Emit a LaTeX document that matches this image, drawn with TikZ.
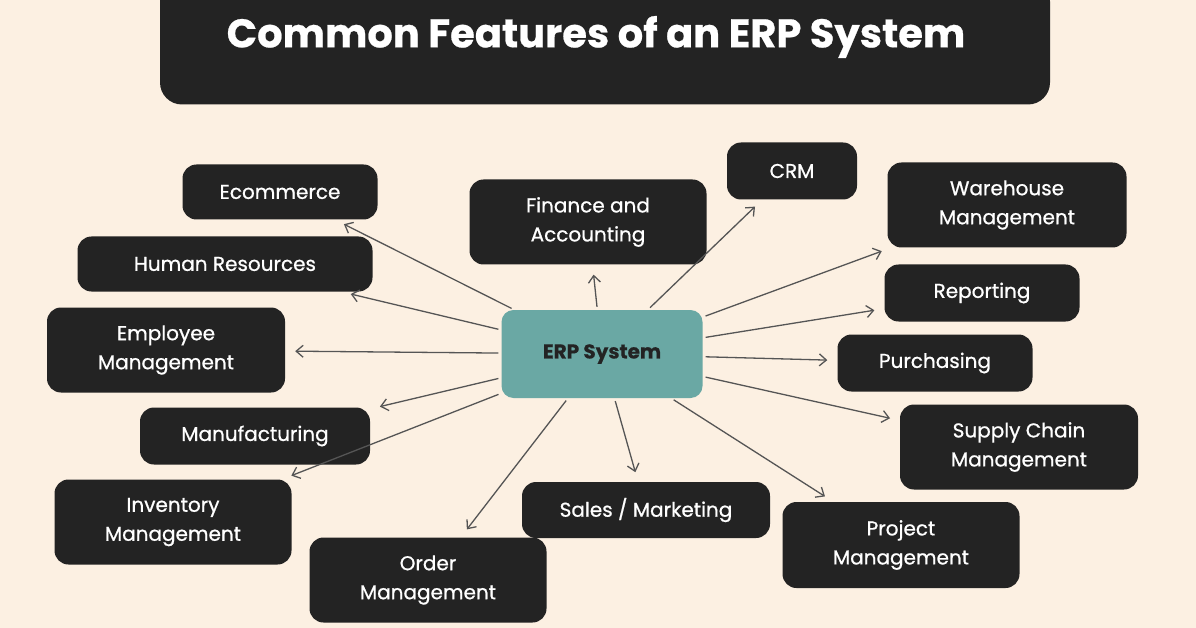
\documentclass[tikz,border=0pt]{standalone}
\usepackage{fontspec}
\setmainfont{Poppins}[FakeBold=0.6]
\newfontfamily\featfont{Poppins}[FakeBold=0.8]
\usetikzlibrary{arrows.meta}
\definecolor{bg}{HTML}{FCF0E2}
\definecolor{box}{HTML}{232323}
\definecolor{teal}{HTML}{6AA8A4}
\definecolor{arr}{HTML}{555555}
\begin{document}
\begin{tikzpicture}[x=1pt,y=-1pt,
 feat/.style={fill=box,text=white,rounded corners=14pt,align=center,inner sep=0pt,font=\featfont\fontsize{20}{29}\selectfont},
 con/.style={draw=arr,line width=1.3pt,-{Straight Barb[length=7pt,width=12pt]},shorten >=10pt,shorten <=3pt}]
\useasboundingbox[fill=bg] (0,0) rectangle (1196,628);
\node[fill=box,rounded corners=22pt,minimum width=890pt,minimum height=125pt,inner sep=0pt] (title) at (605,42) {};
\node[text=white,font=\fontsize{40}{46}\selectfont\bfseries] (tt) at (596,37) {Common Features of an ERP System};
\node[feat,minimum width=195pt,minimum height=55pt] (ec) at (280,192) {Ecommerce};
\node[feat,minimum width=295pt,minimum height=55pt] (hr) at (225,264) {Human Resources};
\node[feat,minimum width=238pt,minimum height=85pt] (em) at (166,350) {Employee\\Management};
\node[feat,minimum width=230pt,minimum height=57pt] (mf) at (255,436) {Manufacturing};
\node[feat,minimum width=237pt,minimum height=85pt] (im) at (173,522) {Inventory\\Management};
\node[feat,minimum width=237pt,minimum height=85pt] (om) at (428,580) {Order\\Management};
\node[feat,minimum width=248pt,minimum height=56pt] (sm) at (646,510) {Sales / Marketing};
\node[feat,minimum width=237pt,minimum height=86pt] (pm) at (901,545) {Project\\Management};
\node[feat,minimum width=238pt,minimum height=85pt] (sc) at (1019,447) {Supply Chain\\Management};
\node[feat,minimum width=195pt,minimum height=57pt] (pu) at (935,363) {Purchasing};
\node[feat,minimum width=195pt,minimum height=57pt] (re) at (982,293) {Reporting};
\node[feat,minimum width=239pt,minimum height=85pt] (wm) at (1007,205) {Warehouse\\Management};
\node[feat,minimum width=130pt,minimum height=57pt] (crm) at (792,171) {CRM};
\node[feat,minimum width=237pt,minimum height=85pt] (fa) at (588,222) {Finance and\\Accounting};
\node[fill=teal,rounded corners=12pt,minimum width=201pt,minimum height=88pt,inner sep=0pt,text=box,font=\fontsize{20}{24}\selectfont\bfseries] (erp) at (602,354) {ERP System};
\foreach \t in {ec,hr,em,mf,im,om,sm,pm,sc,pu,re,wm,crm,fa}
  \draw[con] (erp) -- (\t);
\end{tikzpicture}
\end{document}
